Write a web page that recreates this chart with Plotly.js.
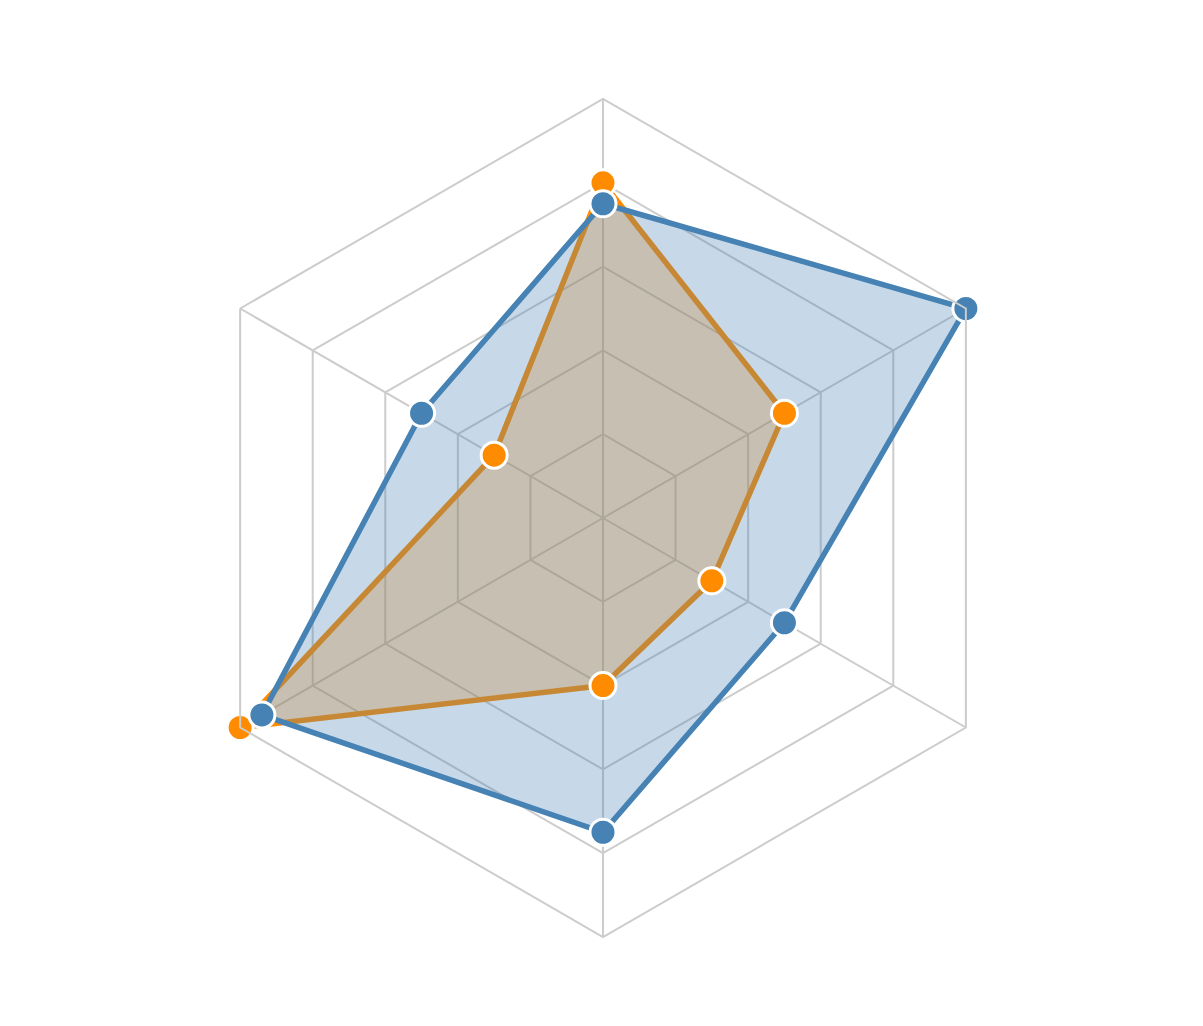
<!DOCTYPE html>
<html>
<head>
<meta charset="utf-8">
<script src="https://cdn.plot.ly/plotly-3.0.1.min.js"></script>
<style>
  html, body { margin: 0; padding: 0; background: #fff; }
  #chart { width: 1203px; height: 1026px; }
</style>
</head>
<body>
<div id="chart"></div>
<script>
// axes of the radar, clockwise from the top
const categories = ['A', 'B', 'C', 'D', 'E', 'F'];

// series values (0-100 scale)
const seriesBlue = [75, 100, 50, 75, 94, 50];
const seriesOrange = [80, 50, 30, 40, 100, 30];

const blue = '#4682b4';
const orange = '#ff8c00';

// close the polygon by repeating the first point
function closed(arr) { return arr.concat([arr[0]]); }

function areaTrace(values, color, fillcolor) {
  return {
    type: 'scatterpolar',
    r: closed(values),
    theta: closed(categories),
    mode: 'lines',
    fill: 'toself',
    fillcolor: fillcolor,
    line: { color: color, width: 5.5 },
    hoverinfo: 'skip'
  };
}

function markerTrace(values, color) {
  return {
    type: 'scatterpolar',
    r: values,
    theta: categories,
    mode: 'markers',
    marker: { color: color, size: 26, line: { color: '#fff', width: 3 } }
  };
}

// fills and lines first, markers on top
const traces = [
  areaTrace(seriesOrange, orange, 'rgba(255,140,0,0.3)'),
  areaTrace(seriesBlue, blue, 'rgba(70,130,180,0.3)'),
  markerTrace(seriesOrange, orange),
  markerTrace(seriesBlue, blue)
];

const layout = {
  width: 1203,
  height: 1026,
  showlegend: false,
  paper_bgcolor: '#fff',
  margin: { l: 184, r: 181, t: 99, b: 89 },
  polar: {
    bgcolor: 'rgba(0,0,0,0)',
    gridshape: 'linear',
    radialaxis: {
      range: [0, 100],
      dtick: 20,
      showticklabels: false,
      ticks: '',
      showline: false,
      gridcolor: '#cccccc',
      gridwidth: 2
    },
    angularaxis: {
      type: 'category',
      categoryarray: categories,
      rotation: 90,
      direction: 'clockwise',
      showticklabels: false,
      ticks: '',
      showline: true,
      linecolor: '#cccccc',
      linewidth: 2,
      gridcolor: '#cccccc',
      gridwidth: 2
    }
  }
};

Plotly.newPlot('chart', traces, layout, { displayModeBar: false, staticPlot: true });
</script>
</body>
</html>
